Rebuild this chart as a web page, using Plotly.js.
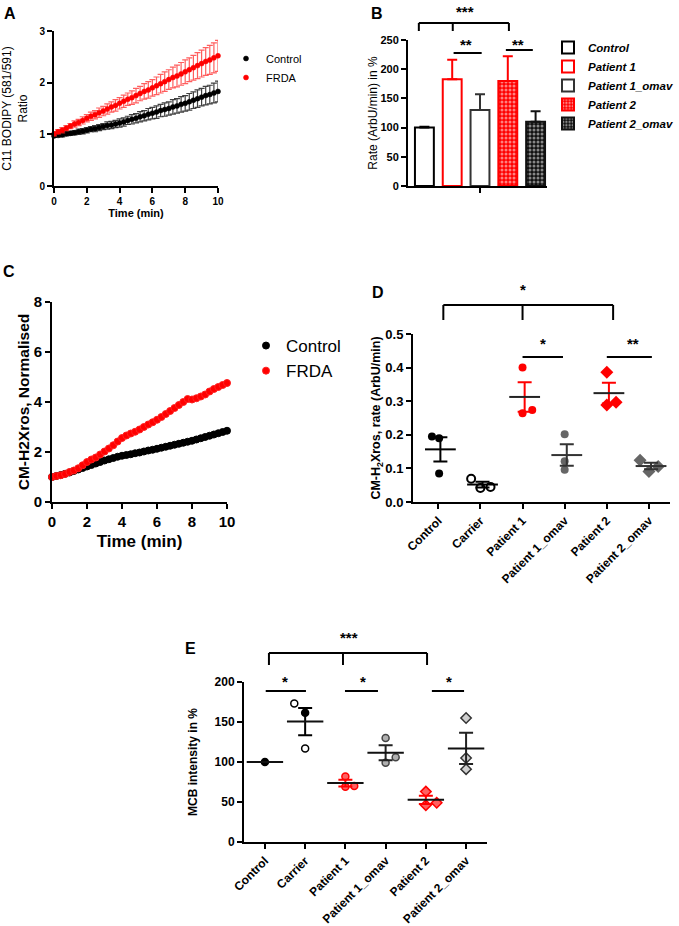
<!DOCTYPE html>
<html><head><meta charset="utf-8">
<script src="https://cdn.plot.ly/plotly-3.0.1.min.js"></script>
<style>html,body{margin:0;padding:0;background:#fff}#chart{width:679px;height:926px}</style>
</head><body><div id="chart"></div>
<script>
const W=679,H=926;
const FONT='Liberation Sans, Arial, sans-serif';

// ---------- Panel A : C11 BODIPY ratio ----------
const timeA=[0,0.25,0.5,0.75,1,1.25,1.5,1.75,2,2.25,2.5,2.75,3,3.25,3.5,3.75,4,4.25,4.5,4.75,5,5.25,5.5,5.75,6,6.25,6.5,6.75,7,7.25,7.5,7.75,8,8.25,8.5,8.75,9,9.25,9.5,9.75,10];
const aControl=[0.97,0.98,0.99,1.01,1.02,1.03,1.05,1.06,1.08,1.10,1.11,1.13,1.15,1.17,1.18,1.20,1.22,1.24,1.27,1.29,1.31,1.34,1.36,1.39,1.41,1.43,1.46,1.48,1.50,1.53,1.55,1.58,1.60,1.63,1.66,1.69,1.72,1.75,1.77,1.80,1.83];
const aControlErr=[0.03,0.03,0.04,0.04,0.04,0.04,0.05,0.05,0.05,0.05,0.06,0.06,0.06,0.07,0.07,0.07,0.08,0.08,0.08,0.09,0.09,0.10,0.10,0.11,0.11,0.12,0.12,0.13,0.13,0.14,0.14,0.15,0.15,0.16,0.16,0.17,0.17,0.18,0.18,0.19,0.20];
const aFRDA=[1.01,1.05,1.08,1.12,1.16,1.20,1.23,1.27,1.31,1.35,1.38,1.42,1.45,1.49,1.53,1.56,1.60,1.64,1.68,1.71,1.75,1.79,1.83,1.86,1.90,1.94,1.98,2.02,2.06,2.10,2.13,2.17,2.21,2.25,2.29,2.33,2.37,2.41,2.44,2.48,2.52];
const aFRDAErr=[0.04,0.04,0.05,0.05,0.05,0.06,0.06,0.07,0.07,0.08,0.08,0.09,0.09,0.10,0.10,0.11,0.11,0.12,0.12,0.13,0.14,0.14,0.15,0.16,0.16,0.17,0.18,0.19,0.19,0.20,0.21,0.22,0.23,0.23,0.24,0.25,0.26,0.27,0.28,0.29,0.30];

// ---------- Panel B : rate bars ----------
const bCats=['Control','Patient 1','Patient 1_omav','Patient 2','Patient 2_omav'];
const bRate=[100,183,130,180,110];
const bErr=[1.5,33,27,42,18];

// ---------- Panel C : CM-H2Xros ----------
const timeC=[0,0.25,0.5,0.75,1,1.25,1.5,1.75,2,2.25,2.5,2.75,3,3.25,3.5,3.75,4,4.25,4.5,4.75,5,5.25,5.5,5.75,6,6.25,6.5,6.75,7,7.25,7.5,7.75,8,8.25,8.5,8.75,9,9.25,9.5,9.75,10];
const cControl=[1.00,1.04,1.08,1.13,1.18,1.24,1.30,1.36,1.42,1.48,1.54,1.60,1.66,1.71,1.76,1.81,1.85,1.88,1.91,1.95,1.98,2.02,2.06,2.09,2.13,2.17,2.21,2.25,2.29,2.33,2.37,2.41,2.45,2.50,2.55,2.60,2.65,2.70,2.75,2.80,2.85];
const cFRDA=[1.00,1.04,1.07,1.12,1.20,1.26,1.35,1.47,1.60,1.70,1.78,1.90,2.02,2.14,2.27,2.42,2.56,2.66,2.74,2.81,2.90,3.00,3.10,3.19,3.29,3.40,3.52,3.64,3.76,3.88,4.00,4.12,4.10,4.15,4.22,4.30,4.42,4.52,4.60,4.68,4.76];

// ---------- Panel D : CM-H2Xros rate, per line ----------
const dCats=['Control','Carrier','Patient 1','Patient 1_omav','Patient 2','Patient 2_omav'];
const dControl=[0.195,0.19,0.085];
const dCarrier=[0.069,0.042,0.045];
const dPatient1=[0.40,0.264,0.274];
const dPatient1Omav=[0.202,0.121,0.096];
const dPatient2=[0.386,0.289,0.297];
const dPatient2Omav=[0.124,0.091,0.106];

// ---------- Panel E : MCB intensity ----------
const eCats=['Control','Carrier','Patient 1','Patient 1_omav','Patient 2','Patient 2_omav'];
const eControl=[100];
const eCarrier=[173,161.6,117];
const ePatient1=[82,69,70];
const ePatient1Omav=[130,99,106];
const ePatient2=[63,46,49];
const ePatient2Omav=[155,105,91];

// ---------- helpers (layout only) ----------
const dx=(a,b)=>[a/W,b/W];
const dy=(top,bot)=>[1-bot/H,1-top/H];
const py=(y)=>1-y/H;
function mean(a){return a.reduce((s,v)=>s+v,0)/a.length;}
function sem(a){if(a.length<2)return 0;const m=mean(a);const v=a.reduce((s,x)=>s+(x-m)*(x-m),0)/(a.length-1);return Math.sqrt(v/a.length);}

const traces=[];
// A
traces.push({type:'scatter',mode:'markers',x:timeA,y:aControl,name:'Control',xaxis:'x',yaxis:'y',legend:'legend',cliponaxis:false,
  marker:{symbol:'circle',size:5,color:'#000',line:{width:0.5,color:'#000'}},
  error_y:{type:'data',array:aControlErr,color:'rgba(30,30,30,0.85)',thickness:1.2,width:3}});
traces.push({type:'scatter',mode:'markers',x:timeA,y:aFRDA,name:'FRDA',xaxis:'x',yaxis:'y',legend:'legend',cliponaxis:false,
  marker:{symbol:'circle',size:5,color:'#ff0000',line:{width:0.5,color:'#ff0000'}},
  error_y:{type:'data',array:aFRDAErr,color:'rgba(255,40,40,0.75)',thickness:1.2,width:3}});

// B
const bLine=['#000','#ff0000','#333','#ff0000','#111'];
const bFill=['#fff','#fff','#fff','#ff0000','#111'];
const bPattern=[null,null,null,'.','.'];
bCats.forEach((c,i)=>{
  const mk={color:bFill[i],line:{color:bLine[i],width:2}};
  if(bPattern[i]) mk.pattern={shape:bPattern[i],fgcolor:'#fff',bgcolor:bFill[i],size:4,solidity:0.45,fillmode:'overlay'};
  traces.push({type:'bar',x:[i],y:[bRate[i]],width:0.68,name:c,xaxis:'x2',yaxis:'y2',legend:'legend2',marker:mk,
    error_y:{type:'data',symmetric:false,array:[bErr[i]],arrayminus:[0],color:bLine[i],thickness:2,width:5}});
});

// C
traces.push({type:'scatter',mode:'markers',x:timeC,y:cControl,name:'Control',xaxis:'x3',yaxis:'y3',legend:'legend3',cliponaxis:false,
  marker:{symbol:'circle',size:7,color:'#000',line:{width:1,color:'#000'}}});
traces.push({type:'scatter',mode:'markers',x:timeC,y:cFRDA,name:'FRDA',xaxis:'x3',yaxis:'y3',legend:'legend3',cliponaxis:false,
  marker:{symbol:'circle',size:7,color:'#ff0000',line:{width:1,color:'#ff2020'}}});

// D
const dGroups=[dControl,dCarrier,dPatient1,dPatient1Omav,dPatient2,dPatient2Omav];
const dOffset=[[-0.15,0.02,0.02],[-0.22,0,0.24],[0,0,0.23],[0,0,0],[0,0,0.22],[-0.21,0,0.22]];
const dSymbol=['circle','circle-open','circle','circle','diamond','diamond'];
const dColor=['#000','#000','#ff0000','#666','#ff0000','#666'];
const dErrColor=['#000','#000','#ff0000','#333','#ff0000','#333'];
const dMeanColor=['#000','#000','#222','#333','#222','#333'];
dGroups.forEach((g,i)=>{
  traces.push({type:'scatter',mode:'markers',x:g.map((v,k)=>i+dOffset[i][k]),y:g,xaxis:'x4',yaxis:'y4',showlegend:false,cliponaxis:false,
    marker:{symbol:dSymbol[i],size:dSymbol[i].startsWith('diamond')?10:8,color:dColor[i],line:{width:dSymbol[i].endsWith('open')?2:0,color:dColor[i]}}});
});
dGroups.forEach((g,i)=>{
  traces.push({type:'scatter',mode:'markers',x:[i+0.05],y:[mean(g)],xaxis:'x4',yaxis:'y4',showlegend:false,cliponaxis:false,
    marker:{symbol:'line-ew',size:22,color:dMeanColor[i],line:{width:2,color:dMeanColor[i]}},
    error_y:{type:'data',array:[sem(g)],color:dErrColor[i],thickness:2,width:7}});
});

// E
const eGroups=[eControl,eCarrier,ePatient1,ePatient1Omav,ePatient2,ePatient2Omav];
const eOffset=[[0],[-0.27,0,0],[0,0,0.22],[0,0,0.25],[0,0,0.27],[0,0,0]];
const eSymbol=[['circle'],['circle-open','circle','circle-open'],['circle','circle','circle'],['circle','circle','circle'],['diamond','diamond','diamond'],['diamond','diamond','diamond']];
const eColor=['#000','#000','#ff6060','#b0b0b0','#ff6060','#d0d0d0'];
const eLineColor=['#000','#000','#ff0000','#444','#ff0000','#333'];
const eErrColor=['#000','#000','#ff0000','#222','#ff0000','#222'];
eGroups.forEach((g,i)=>{
  traces.push({type:'scatter',mode:'markers',x:g.map((v,k)=>i+eOffset[i][k]),y:g,xaxis:'x5',yaxis:'y5',showlegend:false,cliponaxis:false,
    marker:{symbol:eSymbol[i],size:eSymbol[i][0]==='diamond'?8:7,color:eSymbol[i].map(s=>s.endsWith('open')?'#000':eColor[i]),
      line:{width:1.5,color:eLineColor[i]}}});
});
eGroups.forEach((g,i)=>{
  traces.push({type:'scatter',mode:'markers',x:[i],y:[mean(g)],xaxis:'x5',yaxis:'y5',showlegend:false,cliponaxis:false,
    marker:{symbol:'line-ew',size:26,color:'#000',line:{width:2,color:'#111'}},
    error_y:{type:'data',array:[sem(g)],color:eErrColor[i],thickness:2,width:7,visible:g.length>1}});
});

// ---------- layout ----------
function ax(domain,range,extra){
  return Object.assign({domain:domain,range:range,showline:true,linecolor:'#000',linewidth:2,ticks:'outside',ticklen:5,tickwidth:2,tickcolor:'#000',
    showgrid:false,zeroline:false,fixedrange:true,automargin:false,tickfont:{family:FONT,size:10,color:'#000',weight:'bold'}},extra);
}
const tf=(s,w)=>({family:FONT,size:s,color:'#000',weight:w||'bold'});

const layout={
  width:W,height:H,margin:{l:0,r:0,t:0,b:0},paper_bgcolor:'#fff',plot_bgcolor:'rgba(0,0,0,0)',
  barmode:'overlay',font:{family:FONT,color:'#000'},
  xaxis:ax(dx(54,218),[0,10],{anchor:'y',dtick:2,tickfont:tf(10),title:{text:'Time (min)',font:tf(11),standoff:2}}),
  yaxis:ax(dy(31,186),[0,3],{anchor:'x',dtick:1,tickfont:tf(10),title:{text:'C11 BODIPY (581/591)<br>Ratio',font:tf(12,'normal'),standoff:12}}),
  xaxis2:ax(dx(408,547),[-0.59,4.41],{anchor:'y2',tickvals:[2],showticklabels:false}),
  yaxis2:ax(dy(40,186),[0,250],{anchor:'x2',dtick:50,tickfont:tf(11),title:{text:'Rate (ArbU/min) in %',font:tf(12,'normal'),standoff:0}}),
  xaxis3:ax(dx(52,227),[0,10],{anchor:'y3',dtick:2,tickfont:tf(15),title:{text:'Time (min)',font:tf(17),standoff:6}}),
  yaxis3:ax(dy(302,502),[0,8],{anchor:'x3',dtick:2,tickfont:tf(15),title:{text:'CM-H2Xros, Normalised',font:tf(15.5),standoff:0}}),
  xaxis4:ax(dx(413,670),[-0.6,5.5],{anchor:'y4',tickvals:[0,1,2,3,4,5],ticktext:dCats,tickangle:-45,tickfont:tf(12)}),
  yaxis4:ax(dy(334,502),[0,0.5],{anchor:'x4',dtick:0.1,tickformat:'.1f',tickfont:tf(13),title:{text:'CM-H<sub>2</sub>Xros, rate (ArbU/min)',font:tf(12.5),standoff:2}}),
  xaxis5:ax(dx(244,487),[-0.52,5.52],{anchor:'y5',tickvals:[0,1,2,3,4,5],ticktext:eCats,tickangle:-45,tickfont:tf(12)}),
  yaxis5:ax(dy(682,842),[0,200],{anchor:'x5',dtick:50,tickfont:tf(12),title:{text:'MCB intensity in %',font:tf(12),standoff:14}}),
  legend:{x:226/W,y:py(44),xanchor:'left',yanchor:'top',bgcolor:'rgba(0,0,0,0)',font:{family:FONT,size:11,color:'#000'},tracegroupgap:0},
  legend2:{x:548/W,y:py(33),xanchor:'left',yanchor:'top',bgcolor:'rgba(0,0,0,0)',font:{family:FONT,size:11.5,color:'#000',weight:'bold',style:'italic'}},
  legend3:{x:246/W,y:py(328),xanchor:'left',yanchor:'top',bgcolor:'rgba(0,0,0,0)',font:{family:FONT,size:17,color:'#000'}},
  annotations:[],shapes:[]
};

// panel letters
[['A',10,12],['B',377,13],['C',9,271],['D',378,292],['E',190,647]].forEach(p=>{
  layout.annotations.push({text:p[0],xref:'paper',yref:'paper',x:p[1]/W,y:py(p[2]+1),xanchor:'center',yanchor:'middle',showarrow:false,font:tf(16)});
});
// significance stars
function star(t,xa,xv,ypx){layout.annotations.push({text:t,xref:xa,yref:'paper',x:xv,y:py(ypx+4),xanchor:'center',yanchor:'middle',showarrow:false,font:tf(15)});}
function seg(xa,x0,x1,y0,y1){layout.shapes.push({type:'line',xref:xa,yref:'paper',x0:x0,x1:x1,y0:py(y0),y1:py(y1),line:{color:'#000',width:2}});}
function bracket(xa,x0,xm,x1,yTop,yBot){seg(xa,x0,x1,yTop,yTop);seg(xa,x0,x0,yTop,yBot);seg(xa,x1,x1,yTop,yBot);seg(xa,xm,xm,yTop,yBot);}
// B
star('***','x2',1.46,7); bracket('x2',-0.2,1.02,3.04,23,31);
star('**','x2',1.5,40); seg('x2',1.05,2.06,53,53);
star('**','x2',3.35,40); seg('x2',2.93,3.9,50,50);
// D
star('*','x4',2.0,285); bracket('x4',0.12,2.0,4.15,305,320);
star('*','x4',2.48,340); seg('x4',2.0,2.96,357,357);
star('**','x4',4.62,340); seg('x4',4.0,5.07,357,357);
// E
star('***','x5',2.09,633); bracket('x5',0.1,1.94,4.03,653,665);
star('*','x5',0.5,677); seg('x5',0.02,1.02,691,691);
star('*','x5',2.44,677); seg('x5',1.99,2.81,691,691);
star('*','x5',4.58,677); seg('x5',4.15,4.95,691,691);

Plotly.newPlot('chart',traces,layout,{staticPlot:true,displayModeBar:false});
</script></body></html>
